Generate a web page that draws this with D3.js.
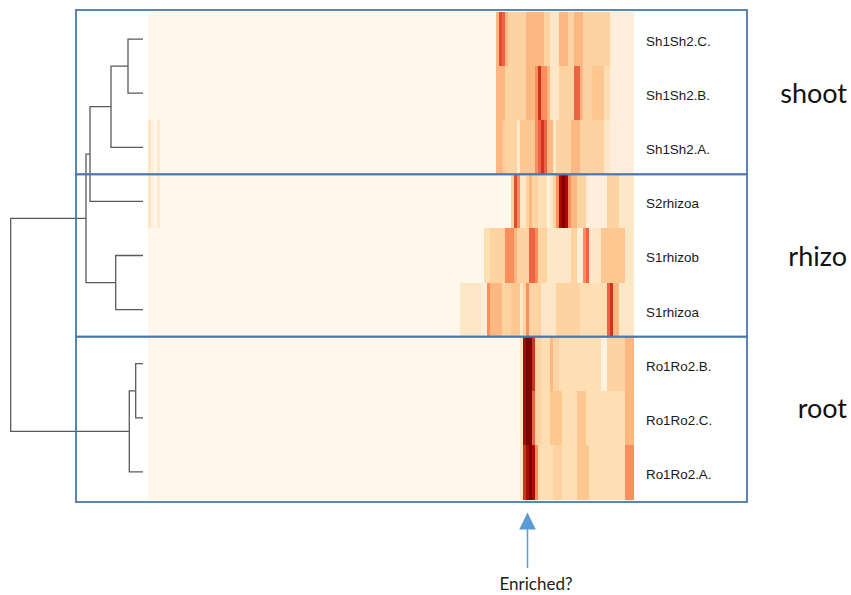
<!DOCTYPE html>
<html lang="en">
<head>
<meta charset="UTF-8" />
<title>Sample heatmap</title>
<script src="https://d3js.org/d3.v7.min.js"></script>
<style>
  body { margin: 0; background: #fff; }
  .rowlabel { font-family: "Liberation Sans", Arial, sans-serif; font-size: 13.4px; fill: #1a1a1a; }
  .grouplabel { font-family: Lato, "Open Sans", sans-serif; font-size: 27px; fill: #111; }
  .note { font-family: Lato, sans-serif; font-size: 17px; fill: #222; }
  .dendro { fill: none; stroke: #5a5a5a; stroke-width: 1.3px; }
  .box { fill: none; stroke: #4a78aa; stroke-width: 1.8px; }
</style>
</head>
<body>
<svg width="851" height="595"></svg>
<script>
// rows, top to bottom
const samples = ['Sh1Sh2.C.', 'Sh1Sh2.B.', 'Sh1Sh2.A.', 'S2rhizoa', 'S1rhizob', 'S1rhizoa', 'Ro1Ro2.B.', 'Ro1Ro2.C.', 'Ro1Ro2.A.'];
const groups = ['shoot', 'rhizo', 'root'];
const sampleGroup = ['shoot', 'shoot', 'shoot', 'rhizo', 'rhizo', 'rhizo', 'root', 'root', 'root'];

// 162 columns; columns 4..99 are empty for every sample
const nCols = 162;
const tailStart = 100;

// faint values in the first four columns
const edgeValues = [
    [0, 0, 0, 0], [0, 0, 0, 0], [1, 0.3, 0, 0.8],
    [1, 0.3, 0, 0.8], [0, 0, 0, 0], [0, 0, 0, 0],
    [0, 0, 0, 0], [0, 0, 0, 0], [0, 0, 0, 0]
];

// columns 100..161, abundance level 0..8
const sh2C = [0,0,0,0,0,0,0,0,0,0,0,0,0,0,0,0, 3,5.5,5,3,2, 2,2,2,2,2, 3,3,3,3,3,3, 2,2, 1,1,1, 3,3,3, 2,2, 3,3,3, 2,2,2,2,2,2,2,2,2, .5,.5,.5,.5,.5,.5,.5,.5];
const sh2B = [0,0,0,0,0,0,0,0,0,0,0,0,0,0,0,0, 3,3,3,2, 2,2,2,2,2,2, 3,3,3, 4,6,4,4,3, 1,1,1, 2,2,2,2,2, 5,5,3, 2,2,2, 2.5,2.5,2.5,2.5, 1.5,1.5, .5,.5,.5,.5,.5,.5,.5,.5];
const sh2A = [0,0,0,0,0,0,0,0,0,0,0,0,0,0,0,0, 3,3,2.5, 2,2,2,2, .7, 2.5,2.5,2.5,2.5,2.5, 4,5,6,5, 3,3, 1, 2,2,2,2,2, 3,3,3, 2,2,2,2,2,2,2,2, 1,1, .5,.5,.5,.5,.5,.5,.5,.5];
const s2rhA = [0,0,0,0,0,0,0,0,0,0,0,0,0,0,0,0,0,0,0,0,0, 2,5.5,4, 1,1, 2,3, 2,2, 1.5,1.5,1.5, .3,1,2,4,7,8,7,4, 3,3, 2,2,2, .5,.5,.5,.5,.5,.5,.5, 2,2,2,2, 1,1,1,1,1];
const s1rhB = [0,0,0,0,0,0,0,0,0,0,0,0, 1.5,1.5, 2,2,2,2,2, 4,4,4, 3, 2,2,2,2, 5,5, 4, 2,2,2, 1,1,1,1,1,1,1,1, 2,2, .5,.5, 4,5, 1,1,1,1, 2.5,2.5,2.5,2.5,2.5,2.5,2.5,2.5, 1,1,1];
const s1rhA = [0,0,0,0, 1,1,1,1,1,1,1, .5,.5, 4,3, 3,3,3, 2,2,2, 2.5,2.5,2.5, 1,2,4, 2,2,2,2, 1,1,1,1,1, 2,2,2,2,2,2,2,2, 1.5,1.5,1.5,1.5,1.5,1.5,1.5,1.5,1.5, 5,6, 3,3, 1,1,1,1,1];
const ro2B = [0,0,0,0,0,0,0,0,0,0,0,0,0,0,0,0,0,0,0,0,0,0,0,0, 1,7,8,8,6, 2,2, 1.5,1.5,1.5, 3, 2,2, 1.5,1.5,1.5,1.5,1.5,1.5,1.5,1.5,1.5,1.5,1.5,1.5,1.5,1.5, .3,.3, 2,2,2,2,2,2, 3,3,3];
const ro2C = [0,0,0,0,0,0,0,0,0,0,0,0,0,0,0,0,0,0,0,0,0,0,0,0, 1,7,8,8,5, 2,2, 1.5,1.5,1.5, 2.5,2.5,2.5,2.5, 1.5,1.5,1.5,1.5,1.5, 2.5,2.5,2.5, 1.5,1.5,1.5,1.5,1.5,1.5,1.5,1.5,1.5,1.5,1.5,1.5,1.5, 3,3,3];
const ro2A = [0,0,0,0,0,0,0,0,0,0,0,0,0,0,0,0,0,0,0,0,0,0,0,0, 1,6,7,8,7,4, 1.5,1.5,1.5,1.5,1.5, 2,2,2, 1.5,1.5,1.5,1.5,1.5, 2.5,2.5,2.5,2.5, 1.5,1.5,1.5,1.5,1.5,1.5,1.5,1.5,1.5,1.5,1.5,1.5, 4,4,4];
const tails = [sh2C, sh2B, sh2A, s2rhA, s1rhB, s1rhA, ro2B, ro2C, ro2A];

// hclust-style merges: negative = sample (1-based), positive = earlier merge; third = height
const merges = [
    [-1, -2, 15], [1, -3, 32], [2, -4, 53], [-5, -6, 27.3],
    [3, 4, 57], [-7, -8, 7.3], [6, -9, 13.7], [5, 7, 132.3]
];

const enrichedCol = 126;
const groupLabelDy = [9.5, 10.5, 0.5];

const svg = d3.select('svg');

const x = d3.scaleBand().domain(d3.range(nCols)).range([148, 634]);
const y = d3.scaleBand().domain(samples).range([12, 499]);
const color = d3.scaleSequential(d3.interpolateOrRd).domain([0, 8]);
const hx = d3.scaleLinear().domain([0, d3.max(merges, (m) => m[2])]).range([143, 10.7]);

function value(r, c) {
    if (c < edgeValues[r].length) return edgeValues[r][c];
    if (c < tailStart) return 0;
    return tails[r][c - tailStart];
}

const cells = samples.flatMap((s, r) => d3.range(nCols).map((c) => ({ s, c, v: value(r, c) })));

svg.append('g')
    .selectAll('rect')
    .data(cells)
    .join('rect')
    .attr('x', (d) => x(d.c))
    .attr('y', (d) => y(d.s))
    .attr('width', x.bandwidth() + 0.4)
    .attr('height', y.bandwidth() + 0.5)
    .attr('shape-rendering', 'crispEdges')
    .attr('fill', (d) => color(d.v));

// dendrogram
const nodeY = [];
function pos(k) {
    if (k < 0) return { x: hx(0), y: y(samples[-k - 1]) + y.bandwidth() / 2 };
    return { x: hx(merges[k - 1][2]), y: nodeY[k - 1] };
}
const dg = svg.append('g');
merges.forEach((m, i) => {
    const a = pos(m[0]), b = pos(m[1]);
    const h = hx(m[2]);
    nodeY[i] = (a.y + b.y) / 2;
    dg.append('path')
        .attr('class', 'dendro')
        .attr('d', `M${a.x},${a.y}H${h}V${b.y}H${b.x}`);
});

// row labels
svg.append('g')
    .selectAll('text')
    .data(samples)
    .join('text')
    .attr('class', 'rowlabel')
    .attr('x', 646)
    .attr('y', (d) => y(d) + y.bandwidth() / 2)
    .attr('dy', '0.52em')
    .text((d) => d);

// group boxes and labels
groups.forEach((g, i) => {
    const rows = samples.filter((s, j) => sampleGroup[j] === g);
    let top = y(rows[0]);
    let bottom = y(rows[rows.length - 1]) + y.bandwidth();
    if (i === 0) top -= 2;
    if (i === groups.length - 1) bottom += 3;
    svg.append('rect')
        .attr('class', 'box')
        .attr('x', 76)
        .attr('y', top)
        .attr('width', 747 - 76)
        .attr('height', bottom - top);
    const mid = rows[Math.floor(rows.length / 2)];
    svg.append('text')
        .attr('class', 'grouplabel')
        .attr('x', 847)
        .attr('y', y(mid) + y.bandwidth() / 2 + groupLabelDy[i])
        .attr('text-anchor', 'end')
        .text(g);
});

// arrow to the enriched column
const ax = x(enrichedCol) + x.bandwidth() / 2;
svg.append('line')
    .attr('x1', ax).attr('x2', ax)
    .attr('y1', 528).attr('y2', 568)
    .attr('stroke', '#5b9bd5')
    .attr('stroke-width', 1.5);
svg.append('path')
    .attr('d', `M${ax},512.5L${ax + 8.3},529.5L${ax - 8.3},529.5Z`)
    .attr('fill', '#5b9bd5');
svg.append('text')
    .attr('class', 'note')
    .attr('x', ax - 28)
    .attr('y', 590)
    .text('Enriched?');
</script>
</body>
</html>
